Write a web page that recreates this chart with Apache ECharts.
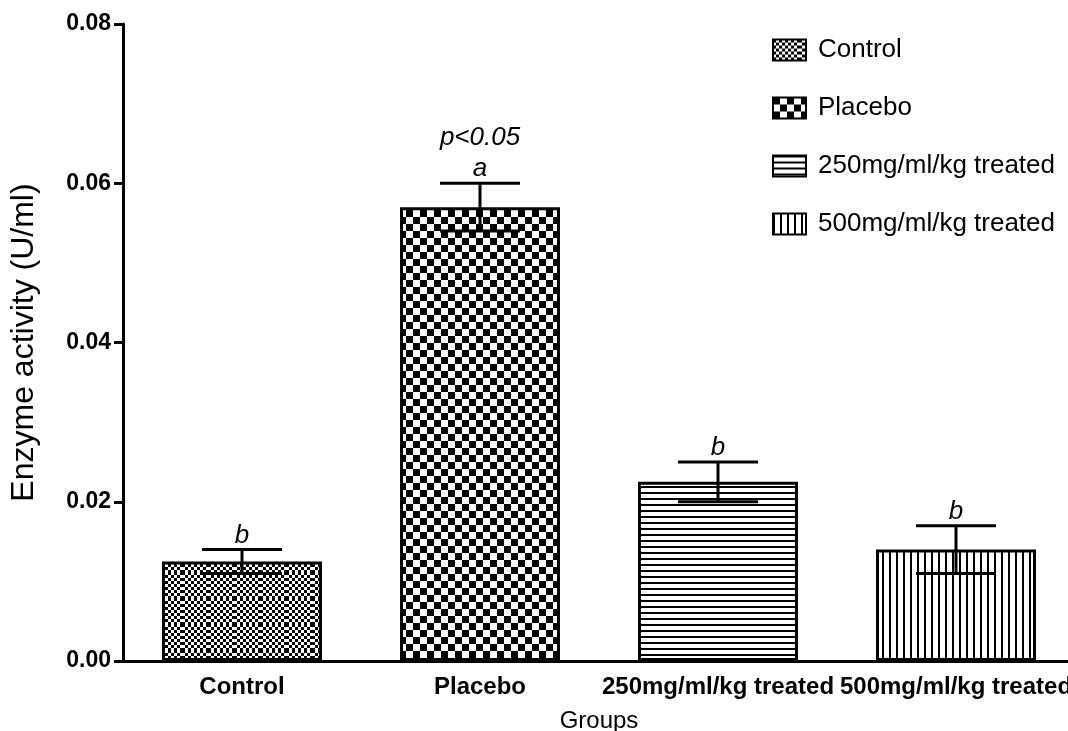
<!DOCTYPE html>
<html>
<head>
<meta charset="utf-8">
<script src="https://cdn.jsdelivr.net/npm/echarts@6/dist/echarts.min.js"></script>
<style>
  html, body { margin: 0; padding: 0; background: #fff; }
  #chart { width: 1068px; height: 731px; }
</style>
</head>
<body>
<div id="chart"></div>
<script>
// 数据
const groups = ['Control', 'Placebo', '250mg/ml/kg treated', '500mg/ml/kg treated'];
const means = [0.0125, 0.057, 0.0225, 0.014];
const errLow = [0.011, 0.054, 0.020, 0.011];
const errHigh = [0.014, 0.060, 0.025, 0.017];
const letters = ['b', 'a', 'b', 'b'];
const notes = ['', 'p<0.05', '', ''];

const FONT = '"Liberation Sans", Arial, sans-serif';

// 填充图案
function makePattern(kind) {
    const c = document.createElement('canvas');
    const ctx = c.getContext('2d');
    if (kind === 'fineCheck' || kind === 'bigCheck') {
        const s = kind === 'fineCheck' ? 3 : 7;
        const size = kind === 'fineCheck' ? 26 : s * 2;
        c.width = size; c.height = size;
        ctx.fillStyle = '#fff';
        ctx.fillRect(0, 0, size, size);
        ctx.fillStyle = '#000';
        for (let y = 0; y < size; y += s) {
            for (let x = 0; x < size; x += s) {
                if (((x / s) + (y / s)) % 2 === 0) ctx.fillRect(x, y, s, s);
            }
        }
    } else if (kind === 'hLines') {
        c.width = 6; c.height = 6;
        ctx.fillStyle = '#fff';
        ctx.fillRect(0, 0, 6, 6);
        ctx.fillStyle = '#000';
        ctx.fillRect(0, 0, 6, 2);
    } else {
        c.width = 7; c.height = 7;
        ctx.fillStyle = '#fff';
        ctx.fillRect(0, 0, 7, 7);
        ctx.fillStyle = '#000';
        ctx.fillRect(0, 0, 2, 7);
    }
    return { image: c, repeat: 'repeat' };
}

const patterns = [
    makePattern('fineCheck'),
    makePattern('bigCheck'),
    makePattern('hLines'),
    makePattern('vLines')
];

const chart = echarts.init(document.getElementById('chart'));

// 每组一个系列，用于图例
const barSeries = groups.map((name, i) => ({
    name: name,
    type: 'bar',
    stack: 'all',
    barWidth: 160,
    data: groups.map((_, j) => (j === i ? means[i] : '-')),
    itemStyle: {
        color: patterns[i],
        borderColor: '#000',
        borderWidth: 3
    },
    emphasis: { disabled: true }
}));

// 误差线 + 标注
const errorSeries = {
    type: 'custom',
    name: 'error',
    z: 10,
    data: groups.map((_, i) => [i, errLow[i], errHigh[i]]),
    renderItem: function (params, api) {
        const x = api.value(0);
        const lo = api.coord([x, api.value(1)]);
        const hi = api.coord([x, api.value(2)]);
        const half = 40;
        const lineStyle = { stroke: '#000', lineWidth: 3 };
        const children = [
            { type: 'line', shape: { x1: lo[0], y1: lo[1], x2: hi[0], y2: hi[1] }, style: lineStyle },
            { type: 'line', shape: { x1: hi[0] - half, y1: hi[1], x2: hi[0] + half, y2: hi[1] }, style: lineStyle },
            { type: 'line', shape: { x1: lo[0] - half, y1: lo[1], x2: lo[0] + half, y2: lo[1] }, style: lineStyle },
            {
                type: 'text', x: hi[0], y: hi[1] - 1,
                style: { text: letters[params.dataIndex], fill: '#000', font: 'italic 26px ' + FONT, align: 'center', verticalAlign: 'bottom' }
            }
        ];
        if (notes[params.dataIndex]) {
            children.push({
                type: 'text', x: hi[0], y: hi[1] - 32,
                style: { text: notes[params.dataIndex], fill: '#000', font: 'italic 26px ' + FONT, align: 'center', verticalAlign: 'bottom' }
            });
        }
        return { type: 'group', children: children };
    }
};

const option = {
    animation: false,
    backgroundColor: '#fff',
    grid: { left: 123, top: 24, width: 952, bottom: 70, outerBoundsMode: 'none', containLabel: false },
    legend: {
        data: groups,
        orient: 'vertical',
        left: 767,
        top: 32,
        itemWidth: 33,
        itemHeight: 21,
        itemGap: 32,
        icon: 'rect',
        itemStyle: { borderColor: '#000', borderWidth: 2 },
        textStyle: { fontSize: 26, color: '#000', fontFamily: FONT, padding: [0, 0, 0, 7] },
        selectedMode: false
    },
    xAxis: {
        type: 'category',
        data: groups,
        name: 'Groups',
        nameLocation: 'middle',
        nameGap: 48,
        nameTextStyle: { fontSize: 24, color: '#000', fontFamily: FONT },
        axisLine: { lineStyle: { color: '#000', width: 3 } },
        axisTick: { alignWithLabel: true, length: 9, lineStyle: { color: '#000', width: 3 } },
        axisLabel: { fontSize: 24, fontWeight: 'bold', color: '#000', fontFamily: FONT, margin: 14, interval: 0, hideOverlap: false }
    },
    yAxis: {
        type: 'value',
        min: 0,
        max: 0.08,
        interval: 0.02,
        name: 'Enzyme activity (U/ml)',
        nameLocation: 'middle',
        nameGap: 83,
        nameTextStyle: { fontSize: 32, color: '#000', fontFamily: FONT },
        splitLine: { show: false },
        axisLine: { show: true, lineStyle: { color: '#000', width: 3 } },
        axisTick: { show: true, length: 9, lineStyle: { color: '#000', width: 3 } },
        axisLabel: {
            fontSize: 23, fontWeight: 'bold', color: '#000', fontFamily: FONT, margin: 12,
            formatter: v => v.toFixed(2)
        }
    },
    series: barSeries.concat([errorSeries])
};

chart.setOption(option);
</script>
</body>
</html>
